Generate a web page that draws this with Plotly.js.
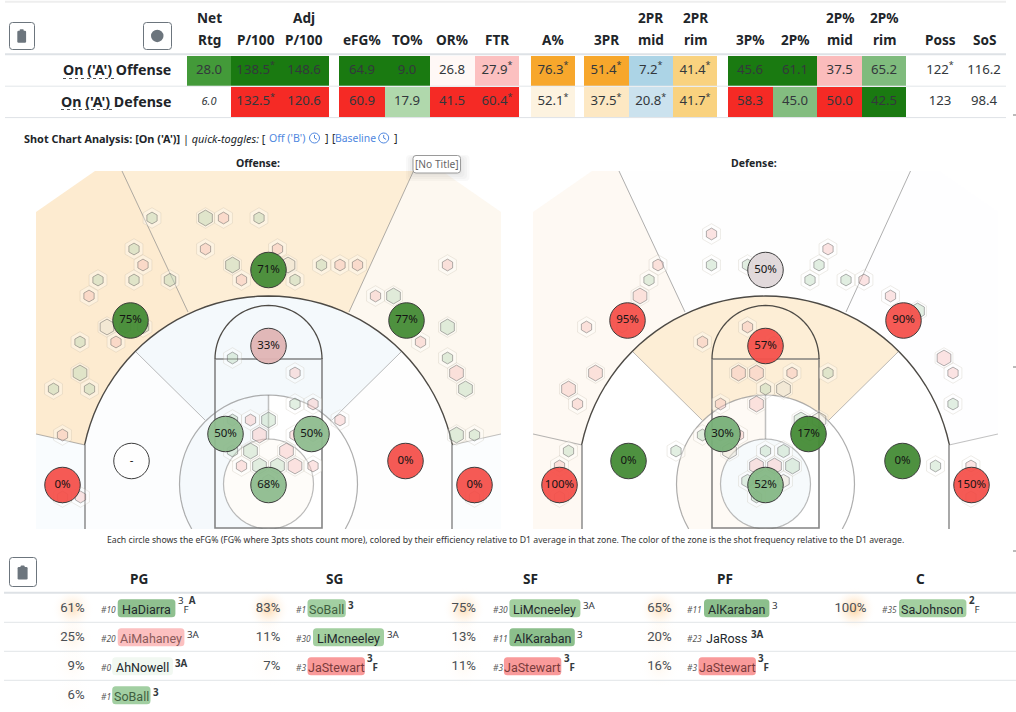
<!DOCTYPE html>
<html><head><meta charset="utf-8">
<script src="https://cdn.plot.ly/plotly-3.0.1.min.js"></script>
<style>html,body{margin:0;padding:0;background:#fff}#chart{width:1016px;height:712px}</style>
</head><body><div id="chart"></div>
<script>
// ---------- DATA: lineup summary table ----------
const statHead2 = ["Rtg","P/100","P/100","eFG%","TO%","OR%","FTR","A%","3PR","mid","rim","3P%","2P%","mid","rim","Poss","SoS"];
const statHead1 = ["Net","","Adj","","","","","","","2PR","2PR","","","2P%","2P%","",""];
const rowNames = ["On ('A') Offense","On ('A') Defense"];
const offenseValues = ["28.0","138.5*","148.6","64.9","9.0","26.8","27.9*","76.3*","51.4*","7.2*","41.4*","45.6","61.1","37.5","65.2","122*","116.2"];
const defenseValues = ["6.0","132.5*","120.6","60.9","17.9","41.5","60.4*","52.1*","37.5*","20.8*","41.7*","58.3","45.0","50.0","42.5","123","98.4"];
const DG="#1a7a11",RD="#f52a25";
const offenseColors = ["#439a39",DG,DG,DG,DG,"#fff8f6","#fcc0c0","#f7a72c","#f7a72c","#acd4e6","#f9d27f",DG,DG,"#fbbcbc","#7fbb7d","rgba(0,0,0,0)","rgba(0,0,0,0)"];
const defenseColors = ["rgba(0,0,0,0)",RD,RD,RD,"#b0d8ac",RD,RD,"#fdf3e0","#fde8c3","#cbe2ee","#f9d27f",RD,"#83bd80",RD,DG,"rgba(0,0,0,0)","rgba(0,0,0,0)"];
const colEdges = [[187,231],[231,280],[280,329],[339.3,385],[385,430],[430,475],[475,519.3],[531,575],[584,629],[629,672.7],[672.7,717],[728,773],[773,817],[817,861.7],[861.7,906],[918,962],[962,1006]];

// ---------- DATA: shot zones (court units, origin at hoop) ----------
const zoneX = [-138,0,138,0,-137,137,-206,206,-43,43,0];
const zoneY = [163.5,214,163.5,138,23,23,-1,-1,50,50,-1];
const offLabels = ["75%","71%","77%","33%","-","0%","0%","0%","50%","50%","68%"];
const defLabels = ["95%","50%","90%","57%","0%","0%","100%","150%","30%","17%","52%"];
const offCircleColors = ["#458c36","#458c36","#458c36","#e1b5b5","#ffffff","#f5524c","#f5524c","#f5524c","#8fbc8f","#8fbc8f","#8fbc8f"];
const defCircleColors = ["#f5524c","#e0d8da","#f5524c","#f5524c","#458c36","#458c36","#f5524c","#f5524c","#78b078","#458c36","#85b885"];

// ---------- DATA: hexes ----------
const offHexX = [-116.5,-63,-45,-9.5,-134.5,-63,9,-125.5,-36,19.5,53,71.5,89,179,-170.5,-134.5,-98.5,-27,26.5,-179.5,107,125,-161.5,-143.5,-125.5,179,-188.5,-152.5,152,-36,179,-188.5,26.5,188,-215,-179,197,26.5,44.5,-36,-18,0,71.5,-206,-36,-9,26.5,44.5,188,206,-18,18,-9,-27,9,26.5,44.5,0,-206,-188,206];
const offHexY = [266,266,266,266,235,235,235,219,219,219,219,219,219,219,204,204,204,204,204,188,188,188,157,157,157,157,142,142,142,126,126,111,111,111,95,95,95,80,80,64,64,64,64,49,33,49,49,49,49,49,33,33,18,18,18,18,18,3,-13,-13,-13];
const offHexSize = [1,3,1,1,1,1,1,1,3,3,1,1,1,1,1,1,2,1,1,1,1,3,3,2,2,3,1,1,1,1,1,3,1,3,1,1,3,1,1,1,1,3,1,1,1,3,1,2,3,1,3,3,3,1,3,3,1,2,1,1,1];
const offHexEff = [1,1,-1,1,1,-1,-1,-1,1,0,1,-1,-1,-1,1,1,1,-1,1,-1,-1,1,0,1,1,1,1,-1,-1,1,1,1,-1,-1,1,1,1,1,-1,1,-1,1,-1,-1,1,-1,-1,1,1,1,1,-1,1,-1,1,-1,-1,1,-1,-1,-1];
const defHexX = [-54,62.5,-107.5,-54,-18,0,53.5,-116.5,44.5,80.5,98.5,-125.5,125,152,-179,-143.5,-18,-63,8.5,178.5,-170,-27,-9,26.5,62.5,187.5,-197,0,18,-188,-45,-9,187.5,35.5,53.5,-63,-45,-27,44.5,-197,-89.5,-36,0,18,-206,-9,9,27,170,205.5,-18,18,0,-9,-206,205.5];
const defHexY = [250,235,219,219,219,219,219,204,204,204,204,188,188,173,157,157,157,142,142,126,111,111,111,111,111,111,95,95,95,80,80,80,80,64,64,49,49,49,49,33,33,33,33,33,18,18,18,18,18,18,3,3,3,-13,-13,-13];
const defHexSize = [1,1,1,1,1,1,1,1,1,1,1,3,1,3,1,1,1,1,1,3,3,3,3,1,1,1,3,1,3,1,1,3,1,3,3,1,1,1,1,1,1,3,1,2,1,3,3,3,1,1,2,2,1,1,1,1];
const defHexEff = [-1,-1,-1,1,1,0,1,1,1,1,-1,-1,-1,1,-1,-1,-1,-1,-1,-1,-1,-1,-1,-1,1,-1,-1,1,0,-1,-1,-1,1,1,0,1,1,-1,1,1,1,0,1,1,-1,-1,-1,1,1,-1,1,0,1,1,-1,-1];

// ---------- DATA: roster positions ----------
const positions = ["PG","SG","SF","PF","C"];
const pgPct=[61,25,9,6], sgPct=[83,11,7], sfPct=[75,13,11], pfPct=[65,20,16], cPct=[100];
const pgNum=["#10","#20","#0","#1"], sgNum=["#1","#30","#3"], sfNum=["#30","#11","#3"], pfNum=["#11","#23","#3"], cNum=["#35"];
const pgName=["HaDiarra","AiMahaney","AhNowell","SoBall"], sgName=["SoBall","LiMcneeley","JaStewart"], sfName=["LiMcneeley","AlKaraban","JaStewart"], pfName=["AlKaraban","JaRoss","JaStewart"], cName=["SaJohnson"];
const pgTag=["<sup>3</sup><sub>F</sub><sup><b>A</b></sup>","<sup>3A</sup>","<sup><b>3A</b></sup>","<sup><b>3</b></sup>"];
const sgTag=["<sup><b>3</b></sup>","<sup>3A</sup>","<sup><b>3</b></sup><sub><b>F</b></sub>"];
const sfTag=["<sup>3A</sup>","<sup>3</sup>","<sup><b>3</b></sup><sub><b>F</b></sub>"];
const pfTag=["<sup>3</sup>","<sup><b>3A</b></sup>","<sup><b>3</b></sup><sub><b>F</b></sub>"];
const cTag=["<sup><b>2</b></sup><sub>F</sub>"];
const caption="Each circle shows the eFG% (FG% where 3pts shots count more), colored by their efficiency relative to D1 average in that zone. The color of the zone is the shot frequency relative to the D1 average.";

// ---------- STYLE ----------
const FONT="'Noto Sans', sans-serif", FONT2="Roboto, sans-serif";
const nameStyle={HaDiarra:["#8fc08f",57.7],AiMahaney:["#fcc0c0",66.7],AhNowell:["#f1f8f1",60.7],SoBall:["#a2cfa2",38.3],LiMcneeley:["#a3cfa0",71],JaStewart:["#f99a9a",57.4],AlKaraban:["#8cbf8c",65.4],SaJohnson:["#a3cfa0",67.4],JaRoss:["rgba(0,0,0,0)",44]};
const nameTextColor={AiMahaney:"#8a5a5a",JaStewart:"#7a3b3b",SoBall:"#3f5f3f"};
const colLeft=[100,295.3,491.7,686.3,881.3], pctRight=[84.7,280.3,476,671.7,866.3], posCenter=[139,334.3,530,725.3,920.3];
const rowYs=[609,638,667,696];
const hexPx={1:11.8,2:13.2,3:15.8};
const effFill={"1":"rgba(110,175,110,0.28)","-1":"rgba(245,120,110,0.27)","0":"rgba(225,215,190,0.45)"};

// ---------- HELPERS ----------
const shapes=[], annotations=[], traces=[];
function rr(x0,y0,x1,y1,r){return `M${x0+r},${y0}L${x1-r},${y0}Q${x1},${y0} ${x1},${y0+r}L${x1},${y1-r}Q${x1},${y1} ${x1-r},${y1}L${x0+r},${y1}Q${x0},${y1} ${x0},${y1-r}L${x0},${y0+r}Q${x0},${y0} ${x0+r},${y0}Z`;}
function page(o){shapes.push(Object.assign({xref:"x",yref:"y",layer:"above"},o));}
function hline(x0,x1,y,c,w){page({type:"line",x0,x1,y0:y,y1:y,line:{color:c,width:w}});}
function note(x,y,text,size,o){annotations.push(Object.assign({xref:"x",yref:"y",x,y,text,showarrow:false,xanchor:"center",yanchor:"middle",font:{size,color:"#212529",family:FONT},borderpad:0},o||{}));}
function button(x0,y0,x1,y1){page({type:"path",path:rr(x0,y0,x1,y1,3),line:{color:"#6c757d",width:1},fillcolor:"rgba(255,255,255,0)"});}
function clip(cx,cy,w,h){const x0=cx-w/2,x1=cx+w/2,y0=cy-h/2+1.5,y1=cy+h/2;
  page({type:"path",path:rr(x0,y0,x1,y1,1.2),fillcolor:"#6c757d",line:{width:0}});
  page({type:"path",path:rr(cx-2,cy-h/2,cx+2,cy-h/2+3,.8),fillcolor:"#6c757d",line:{width:0}});}
function clock(cx,cy,c){page({type:"circle",x0:cx-5,x1:cx+5,y0:cy-5,y1:cy+5,line:{color:c,width:1},fillcolor:"rgba(0,0,0,0)"});
  page({type:"path",path:`M${cx},${cy-3}L${cx},${cy}L${cx+2.4},${cy+1.4}`,line:{color:c,width:1}});}
const arc=(r,a0,a1,cx=0,cy=0)=>{const p=[];const n=48;for(let i=0;i<=n;i++){const a=(a0+(a1-a0)*i/n)*Math.PI/180;p.push([cx+r*Math.cos(a),cy+r*Math.sin(a)]);}return p;};
const toPath=(pts,close)=>"M"+pts.map(p=>p[0].toFixed(2)+","+p[1].toFixed(2)).join("L")+(close?"Z":"");

// ---------- COURT GEOMETRY (court units) ----------
const TOP=313,BOT=-45,EDGE=232.5,CUT=173.5,CUTY=272,R3=188,CX=183.5,CY=39,RM=89,RR=45,KEY=53.5,FTY=125;
const deg=(x,y)=>Math.atan2(y,x)*180/Math.PI;
const aC=deg(CX,CY), aMid=deg(132.5,132), aWing=deg(80.5,172), aIn=deg(63.5,64), aBot=Math.asin(-BOT/RM)*180/Math.PI;

function drawCourt(xr,yr,fills){
  const poly=(pts,c)=>shapes.push({type:"path",xref:xr,yref:yr,layer:"below",path:toPath(pts,true),fillcolor:c,line:{width:0}});
  const ln=(pts,c,w)=>shapes.push({type:"path",xref:xr,yref:yr,layer:"below",path:toPath(pts,false),line:{color:c,width:w}});
  poly([[-EDGE,BOT],[-EDGE,50],[-CX,CY],[-CX,BOT]],fills.cornerL);
  poly([[EDGE,BOT],[EDGE,50],[CX,CY],[CX,BOT]],fills.cornerR);
  poly([[-EDGE,50],[-EDGE,CUTY],[-CUT,TOP],[-146.5,TOP],[-80.5,172]].concat(arc(R3,180-aWing,180-aC)),fills.wingL);
  poly([[EDGE,50],[EDGE,CUTY],[CUT,TOP],[145,TOP],[80.5,172]].concat(arc(R3,aWing,aC)),fills.wingR);
  poly([[-146.5,TOP],[145,TOP],[80.5,172]].concat(arc(R3,aWing,180-aWing)),fills.top);
  poly([[-CX,BOT],[-CX,CY]].concat(arc(R3,180-aC,180-aMid),arc(RM,180-aIn,180+aBot)),fills.midL);
  poly([[CX,BOT],[CX,CY]].concat(arc(R3,aC,aMid),arc(RM,aIn,-aBot)),fills.midR);
  poly(arc(R3,aMid,180-aMid).concat(arc(RM,180-aIn,aIn)),fills.center);
  poly(arc(RM,90,180+aBot).concat([[0,BOT]]),fills.ringL);
  poly(arc(RM,90,-aBot).concat([[0,BOT]]),fills.ringR);
  poly(arc(RR,0,360),fills.rim);
  const G="rgba(110,110,110,0.55)";
  ln([[-EDGE,50],[-CX,CY]],"rgba(120,120,120,.55)",1.2);
  ln([[EDGE,50],[CX,CY]],"rgba(120,120,120,.45)",1.2);
  ln([[-146.5,TOP],[-80.5,172]],G,1);
  ln([[145,TOP],[80.5,172]],G,1);
  ln([[-132.5,132],[-63.5,64]],"rgba(120,120,120,.5)",1);
  ln([[132.5,132],[63.5,64]],"rgba(120,120,120,.5)",1);
  ln([[0,RR],[0,RM]],"rgba(130,130,130,.5)",1.5);
  ln(arc(RM,-aBot,180+aBot),"rgba(120,120,120,.6)",1.2);
  ln(arc(RR,0,360),"rgba(120,120,120,.5)",1.2);
  ln([[-KEY,125],[-KEY,-44],[KEY,-44],[KEY,125],[-KEY,125]],"rgba(110,110,110,.85)",1.6);
  ln(arc(KEY,0,180,0,FTY),"#4d4a45",1.3);
  ln(arc(R3,aC,180-aC),"#4d4a45",1.4);
  ln([[-CX,CY],[-CX,BOT]],"rgba(120,120,120,.8)",1.6);
  ln([[CX,CY],[CX,BOT]],"rgba(120,120,120,.8)",1.6);
}
function courtTraces(xa,ya,hx,hy,hs,he,labels,colors){
  traces.push({type:"scatter",mode:"markers",xaxis:xa,yaxis:ya,x:hx,y:hy,hoverinfo:"skip",
    marker:{symbol:"hexagon",size:20.6,color:"rgba(255,255,255,0.3)",line:{color:"rgba(170,160,140,0.2)",width:1}}});
  traces.push({type:"scatter",mode:"markers",xaxis:xa,yaxis:ya,x:hx,y:hy,hoverinfo:"skip",
    marker:{symbol:"hexagon",size:hs.map(s=>hexPx[s]),color:he.map(e=>effFill[e]),line:{color:"rgba(80,80,80,0.7)",width:.9}}});
  traces.push({type:"scatter",mode:"markers+text",xaxis:xa,yaxis:ya,x:zoneX,y:zoneY,text:labels,textposition:"middle center",hoverinfo:"skip",
    textfont:{size:11.5,color:"#141414",family:FONT},
    marker:{symbol:"circle",size:35.5,color:colors,opacity:.95,line:{color:"#333",width:1}}});
}
drawCourt("x2","y2",{cornerL:"#f9fcfe",cornerR:"#fbfdfe",wingL:"#fdebd0",wingR:"#fdf8f0",top:"#fdeed6",midL:"#fcfdfe",midR:"#fefefe",center:"#f4f9fc",ringL:"#f5f9fc",ringR:"#ffffff",rim:"#fefcf9"});
drawCourt("x3","y3",{cornerL:"#fef9f3",cornerR:"#ffffff",wingL:"#fef9f3",wingR:"#fefeff",top:"#fefefe",midL:"#ffffff",midR:"#ffffff",center:"#fdeed6",ringL:"#fefaf5",ringR:"#ffffff",rim:"#f6fafc"});
courtTraces("x2","y2",offHexX,offHexY,offHexSize,offHexEff,offLabels,offCircleColors);
courtTraces("x3","y3",defHexX,defHexY,defHexSize,defHexEff,defLabels,defCircleColors);

// ---------- TOP TABLE ----------
const colC=colEdges.map(e=>(e[0]+e[1])/2), colW=colEdges.map(e=>e[1]-e[0]);
const headC=[209,255.7,304,362,407,452,497,553,606,650.7,695,750,795,839.7,884,940,984];
const ROW_H=[30,30.3], ROW_TOP=[55.5,87];
const AST='<sup><span style="font-size:9px">*</span></sup>';
[[offenseColors,offenseValues],[defenseColors,defenseValues]].forEach(([cols,vals],i)=>{
  traces.push({type:"bar",xaxis:"x",yaxis:"y",x:colC,width:colW,base:colC.map(()=>ROW_TOP[i]),y:colC.map(()=>ROW_H[i]),marker:{color:cols,line:{width:0}},hoverinfo:"skip"});
  traces.push({type:"scatter",mode:"text",xaxis:"x",yaxis:"y",x:headC,y:colC.map(()=>ROW_TOP[i]+ROW_H[i]/2),hoverinfo:"skip",
    text:vals.map((v,k)=>(i===1&&k===0)?'<i><span style="font-size:11px">'+v+'</span></i>':v.replace("*",AST)),textposition:"middle center",textfont:{size:13.2,color:"#33383c",family:FONT}});
  note(172,ROW_TOP[i]+ROW_H[i]/2-.6,"<b>"+rowNames[i]+"</b>",14.2,{xanchor:"right"});
});
statHead1.forEach((t,i)=>{if(t)note(headC[i],17.4,"<b>"+t+"</b>",13.6);});
statHead2.forEach((t,i)=>note(headC[i],39.6,"<b>"+t+"</b>",13.6));
hline(5,1006,1.8,"#eeeeee",2);
hline(5,1006,54.3,"#dee2e6",2);
hline(5,1006,86.2,"#e3e6e9",1);
hline(5,1006,117.6,"#dee2e6",1);
page({type:"line",x0:63,x1:115,y0:78.5,y1:78.5,line:{color:"#555",width:1,dash:"dot"}});
page({type:"line",x0:61,x1:113,y0:109.5,y1:109.5,line:{color:"#555",width:1,dash:"dot"}});
button(9.5,22.5,34.5,49.5); clip(21.7,36,8.8,13.4);
button(143.5,22.5,171.5,49.5);
page({type:"circle",x0:151,x1:163.5,y0:29.7,y1:42.2,fillcolor:"#6c757d",line:{width:0}});

// ---------- SECTION TITLES ----------
const LINK="#4f87e0";
note(23,138,"<b>Shot Chart Analysis: [On ('A')]</b> | <i>quick-toggles:</i> [",10.9,{xanchor:"left"});
note(268,138,"Off ('B')",10.6,{xanchor:"left",font:{size:10.6,color:LINK,family:FONT}});
clock(314.5,138,LINK);
note(323.5,138,"]",10.6,{xanchor:"left"});
note(330.5,138,"[",10.6,{xanchor:"left"});
note(333.5,138,"Baseline",10.4,{xanchor:"left",font:{size:10.4,color:LINK,family:FONT}});
clock(383.7,138,LINK);
note(392.5,138,"]",10.6,{xanchor:"left"});
note(257.5,163,"<b>Offense:</b>",10.5);
note(753.7,163,"<b>Defense:</b>",10.5);
note(505.7,539.5,caption,8.7,{font:{size:8.7,color:"#333",family:FONT}});

// tooltip
for(let k=0;k<4;k++)page({type:"path",path:rr(412-k*2,156-k+2,462+k*2.5,174+k*2+1,4),fillcolor:"rgba(120,120,120,0.045)",line:{width:0}});
page({type:"path",path:rr(413,155.5,460.5,173,3),fillcolor:"#ffffff",line:{color:"#9a9a9a",width:1}});
note(436.8,164.3,"[No Title]",10.2,{font:{size:10.2,color:"#666",family:FONT}});

// ---------- ROSTER TABLE ----------
button(9.5,557.5,36.5,586.5); clip(22.6,572.5,10,14);
positions.forEach((p,i)=>note(posCenter[i],578.3,"<b>"+p+"</b>",13.6));
hline(4,1016,592.8,"#dee2e6",2);
rowYs.slice(0,3).forEach(y=>hline(4,1016,y+13.3,"#e2e5e8",1));
const roster=[[pgPct,pgNum,pgName,pgTag],[sgPct,sgNum,sgName,sgTag],[sfPct,sfNum,sfName,sfTag],[pfPct,pfNum,pfName,pfTag],[cPct,cNum,cName,cTag]];
roster.forEach(([pct,num,nm,tag],c)=>{
  traces.push({type:"scatter",mode:"markers",xaxis:"x",yaxis:"y",x:pct.map(()=>pctRight[c]-12),y:pct.map((_,r)=>rowYs[r]),hoverinfo:"skip",
    marker:{symbol:"circle",size:43,color:"rgba(255,255,255,0)",gradient:{type:"radial",color:pct.map(v=>`rgba(253,178,90,${(Math.min(v,100)/100*0.62).toFixed(2)})`)},line:{width:0}}});
  traces.push({type:"scatter",mode:"text",xaxis:"x",yaxis:"y",x:pct.map(()=>pctRight[c]),y:pct.map((_,r)=>rowYs[r]),hoverinfo:"skip",
    text:pct.map(v=>v+"%"),textposition:"middle left",textfont:{size:13.2,color:"#4a4f54",family:FONT2}});
  nm.forEach((n,r)=>{
    const y=rowYs[r],[col,w]=nameStyle[n];
    const left=colLeft[c]+(num[r].length>2?17.7:12.2);
    note(colLeft[c],y+.5,"<i>"+num[r]+"</i>",8.4,{xanchor:"left",font:{size:8.4,color:"#555",family:FONT}});
    page({type:"path",path:rr(left,y-9.7,left+w,y+8.3,3.5),fillcolor:col,line:{width:0},layer:"below"});
    note(left+w/2,y,n,12.5,{font:{size:12.5,color:nameTextColor[n]||"#22282c",family:FONT2}});
    note(left+w+1.5,y-4,tag[r],14,{xanchor:"left",font:{size:14,color:"#33383c",family:FONT}});
  });
});
// stray edge ticks of the page
[115,367,551].forEach(y=>hline(1013,1016,y,"#777",1));

// ---------- LAYOUT ----------
const W=1016,H=712;
const hid={visible:false,fixedrange:true,showgrid:false,zeroline:false};
const layout={width:W,height:H,margin:{l:0,r:0,t:0,b:0},paper_bgcolor:"#fff",plot_bgcolor:"rgba(0,0,0,0)",showlegend:false,barmode:"overlay",bargap:0,
  font:{family:FONT},
  xaxis:Object.assign({domain:[0,1],range:[0,W]},hid),
  yaxis:Object.assign({domain:[0,1],range:[H,0]},hid),
  xaxis2:Object.assign({domain:[36/W,501/W],range:[-EDGE,EDGE],anchor:"y2"},hid),
  yaxis2:Object.assign({domain:[1-529/H,1-171/H],range:[BOT,TOP],anchor:"x2"},hid),
  xaxis3:Object.assign({domain:[533/W,998/W],range:[-EDGE,EDGE],anchor:"y3"},hid),
  yaxis3:Object.assign({domain:[1-529/H,1-171/H],range:[BOT,TOP],anchor:"x3"},hid),
  shapes,annotations};
Plotly.newPlot("chart",traces,layout,{displayModeBar:false,responsive:false});
</script></body></html>
